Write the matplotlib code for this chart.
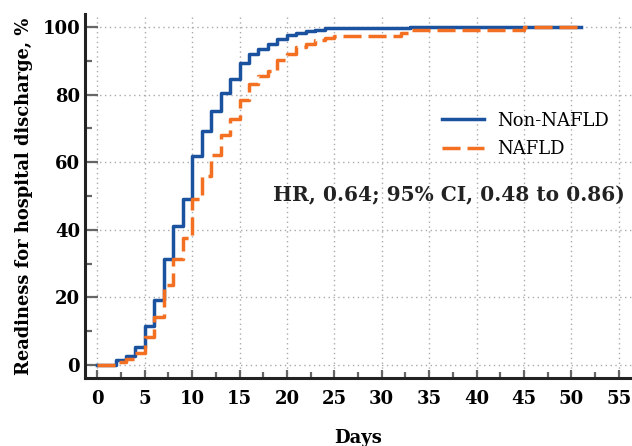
import matplotlib
matplotlib.use("Agg")
import matplotlib.pyplot as plt
from matplotlib.ticker import MultipleLocator

# Kaplan-Meier style cumulative discharge curves
non_nafld_days = [0, 2, 3, 4, 5, 6, 7, 8, 9, 10, 11, 12, 13, 14, 15, 16, 17, 18,
                  19, 20, 21, 22, 23, 24, 33, 51]
non_nafld_pct = [0, 1.5, 2.7, 5.4, 11.5, 19.2, 31.5, 41.1, 49, 61.8, 69.2, 75.2,
                 80.5, 84.6, 89.2, 92.1, 93.6, 94.8, 96.5, 97.5, 98.3, 98.8, 99.2,
                 99.6, 100, 100]

nafld_days = [0, 2, 3, 4, 5, 6, 7, 8, 9, 10, 11, 12, 13, 14, 15, 16, 17, 18, 19,
              20, 21, 22, 23, 24, 25, 32, 33, 45, 51]
nafld_pct = [0, 1, 1.7, 3.7, 8.4, 14.1, 23.7, 31.5, 37.5, 49, 56, 62.1, 68, 72.7,
             78.4, 83.2, 85.5, 87, 90.2, 91.9, 93.9, 94.8, 96.1, 96.8, 97.4, 98.3,
             99.1, 100, 100]

x_ticks = list(range(0, 60, 5))
y_ticks = list(range(0, 120, 20))

plt.rcParams['font.family'] = ['DejaVu Serif']

fig = plt.figure(figsize=(6.32, 4.46), dpi=100)
ax = fig.add_axes([0.1345, 0.1525, 0.8655, 0.8161])

ax.step(non_nafld_days, non_nafld_pct, where='post', color='#1a52a0', lw=2.5,
        label='Non-NAFLD', zorder=3)
ax.step(nafld_days, nafld_pct, where='post', color='#f36f21', lw=2.5,
        dashes=(5.2, 2), label='NAFLD', zorder=4)

ax.set_xlim(-1.3, 56.4)
ax.set_ylim(-3.8, 103.8)
ax.set_xticks(x_ticks)
ax.set_yticks(y_ticks)
ax.xaxis.set_minor_locator(MultipleLocator(2.5))
ax.yaxis.set_minor_locator(MultipleLocator(10))

for s in ['top', 'right']:
    ax.spines[s].set_visible(False)
for s in ['left', 'bottom']:
    ax.spines[s].set_linewidth(2.2)
    ax.spines[s].set_color('#222222')

ax.tick_params(axis='both', which='major', direction='in', color='#666666',
               width=1.6, labelsize=13)
ax.tick_params(axis='y', which='major', length=9, pad=3.5)
ax.tick_params(axis='x', which='major', length=6, pad=9)
ax.tick_params(axis='y', which='minor', direction='in', color='#666666',
               width=1.6, length=5)
ax.tick_params(axis='x', which='minor', direction='in', color='#666666',
               width=1.6, length=4)
for lab in ax.get_xticklabels() + ax.get_yticklabels():
    lab.set_fontweight('bold')

ax.grid(True, which='major', linestyle=(0, (1, 2.5)), color='#aaaaaa', lw=1)
ax.set_axisbelow(True)

ax.set_xlabel('Days', fontsize=13, fontweight='bold', labelpad=15)
ax.set_ylabel('Readiness for hospital discharge, %', fontsize=12.9,
              fontweight='bold', labelpad=7)

ax.legend(loc='upper left', bbox_to_anchor=(0.653, 0.732), frameon=False,
          fontsize=13, handlelength=2.33, handletextpad=0.72, labelspacing=0.58,
          borderpad=0, borderaxespad=0)

fig.text(625 / 632, 1 - 195 / 446, 'HR, 0.64; 95% CI, 0.48 to 0.86)',
         ha='right', va='center', fontsize=14.5, fontweight='bold', color='#222222')

fig.savefig('out.png', dpi=100)
